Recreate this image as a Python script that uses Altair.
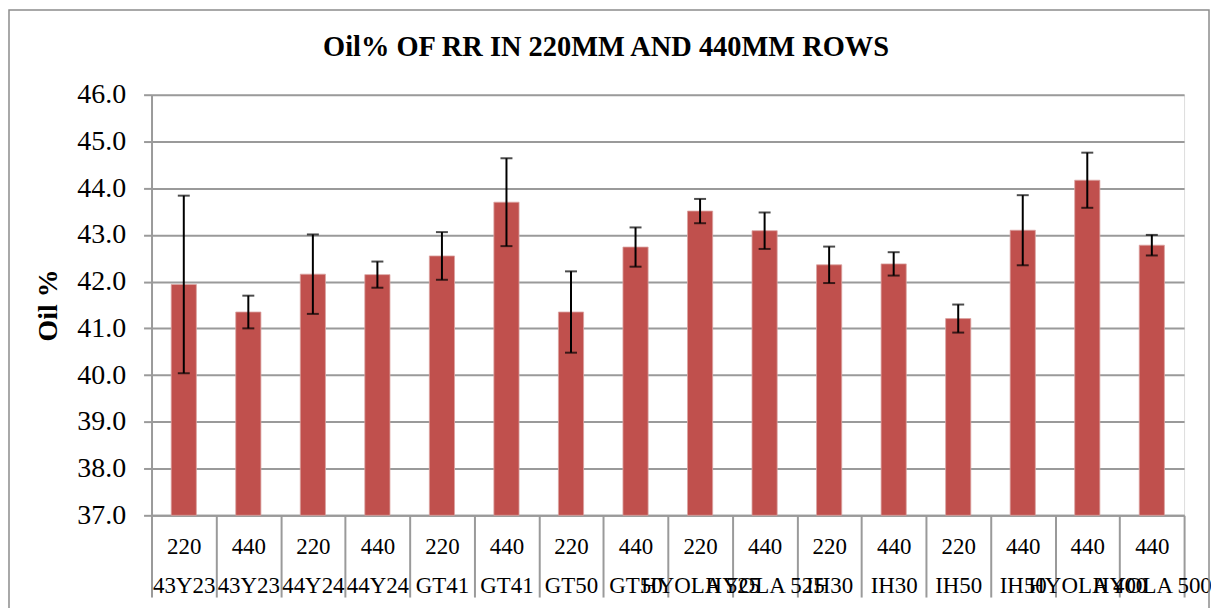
import altair as alt
import pandas as pd

spacing = ["220", "440", "220", "440", "220", "440", "220", "440",
           "220", "440", "220", "440", "220", "440", "440", "440"]
variety = ["43Y23", "43Y23", "44Y24", "44Y24", "GT41", "GT41", "GT50", "GT50",
           "HYOLA 525", "HYOLA 525", "IH30", "IH30", "IH50", "IH50", "HYOLA 400", "HYOLA 500"]
oil = [41.94, 41.35, 42.16, 42.15, 42.55, 43.70, 41.35, 42.74,
       43.51, 43.09, 42.36, 42.38, 41.21, 43.10, 44.17, 42.78]
err = [1.90, 0.35, 0.85, 0.28, 0.51, 0.94, 0.87, 0.42,
       0.26, 0.39, 0.39, 0.25, 0.30, 0.75, 0.59, 0.22]
y_ticks = [37, 38, 39, 40, 41, 42, 43, 44, 45, 46]
title_text = "Oil% OF RR IN 220MM AND 440MM ROWS"

df = pd.DataFrame({"spacing": spacing, "variety": variety, "oil": oil, "err": err})
df["key"] = df["spacing"] + "|" + df["variety"]
df["lo"] = df["oil"] - df["err"]
df["hi"] = df["oil"] + df["err"]
order = list(df["key"])

FONT = "Liberation Serif"
GRAY = "#9a9a9a"
W, H = 1036, 422

x_scale = alt.Scale(paddingInner=0, paddingOuter=0)
x_enc = alt.X(
    "key:N", sort=order, scale=x_scale,
    axis=alt.Axis(
        title=None,
        labelExpr="isValid(datum.value) ? split(datum.value, '|') : ''",
        labelFont=FONT, labelFontSize=23, labelColor="black", labelLineHeight=39,
        labelBaseline="top", labelPadding=-62, labelAngle=0,
        labelOverlap=False, labelBound=False, labelFlush=False,
        tickBand="extent", tickSize=82, tickColor=GRAY, tickWidth=2,
        domainColor=GRAY, domainWidth=2, grid=False,
    ),
)
y_scale = alt.Scale(domain=[37, 46], nice=False, zero=False)

base = alt.Chart(df)

bars = base.mark_bar(
    color="#C0504D", stroke="#dba3a1", strokeWidth=0.8,
    width=alt.RelativeBandSize(0.39),
).encode(
    x=x_enc,
    y=alt.Y(
        "oil:Q", scale=y_scale,
        axis=alt.Axis(
            values=y_ticks, format=".1f", labelFont=FONT, labelFontSize=28,
            labelColor="black", labelPadding=18, tickSize=8, tickColor=GRAY,
            tickWidth=2, domainColor=GRAY, domainWidth=2, gridColor=GRAY,
            gridWidth=2, title="Oil %", titleFont=FONT, titleFontSize=28,
            titleFontWeight="bold", titleColor="black", titlePadding=14,
        ),
    ),
    y2=alt.datum(37),
)

rules = base.mark_rule(color="black", strokeWidth=2).encode(
    x=alt.X("key:N", sort=order, scale=x_scale),
    y=alt.Y("lo:Q", scale=y_scale), y2="hi:Q",
)
cap_lo = base.mark_tick(color="black", thickness=2, size=12).encode(
    x=alt.X("key:N", sort=order, scale=x_scale), y=alt.Y("lo:Q", scale=y_scale)
)
cap_hi = base.mark_tick(color="black", thickness=2, size=12).encode(
    x=alt.X("key:N", sort=order, scale=x_scale), y=alt.Y("hi:Q", scale=y_scale)
)

one = alt.Chart(pd.DataFrame({"a": [0]}))
border = one.mark_rect(fill=None, stroke="#8c8c8c", strokeWidth=1.5).encode(
    x=alt.value(-143), x2=alt.value(W + 25),
    y=alt.value(-85), y2=alt.value(H + 120),
)
title = one.mark_text(
    text=title_text, font=FONT, fontSize=28.5, fontWeight="bold", color="black",
    align="center", baseline="middle",
).encode(x=alt.value(456), y=alt.value(-48))

chart = alt.layer(border, title, bars, rules, cap_lo, cap_hi).properties(
    width=W, height=H,
    autosize=alt.AutoSizeParams(type="none"),
    padding={"left": 144, "top": 86, "right": 27, "bottom": 92},
).configure_view(strokeWidth=0).configure(background="white")

chart.save("out.html", embed_options={"renderer": "svg", "actions": False})
